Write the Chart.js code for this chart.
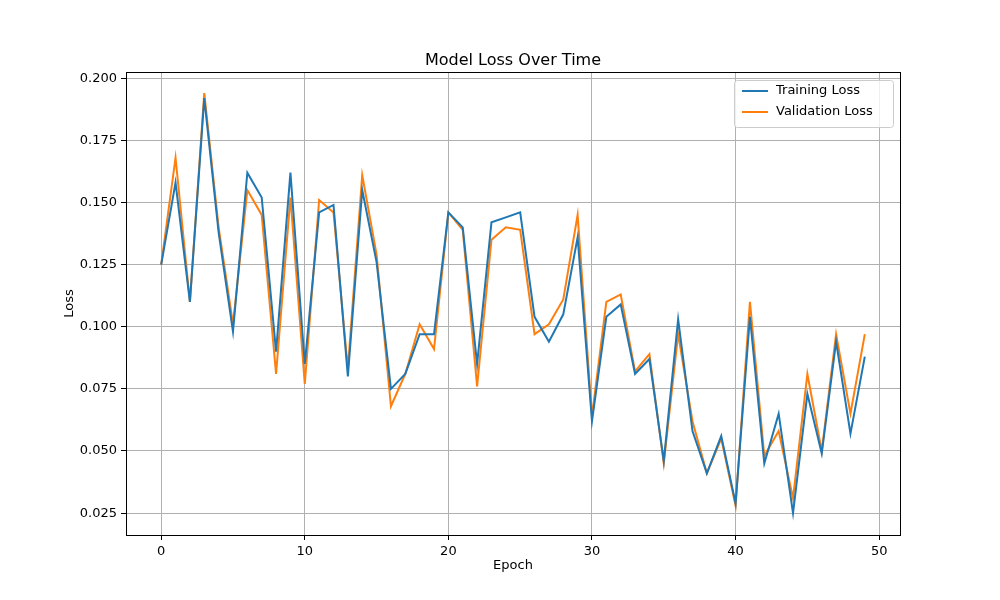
<!DOCTYPE html>
<html>
<head>
<meta charset="utf-8">
<script src="https://cdn.jsdelivr.net/npm/chart.js@4/dist/chart.umd.min.js"></script>
<style>
  body { margin: 0; background: #fff; }
  #wrap { width: 1000px; height: 600px; }
</style>
</head>
<body>
<div id="wrap"><canvas id="lossChart" width="1000" height="600"></canvas></div>
<script>
// Loss values
const epochs = Array.from({ length: 50 }, (_, i) => i);
const trainingLoss = [0.125, 0.158, 0.110, 0.192, 0.138, 0.098, 0.162, 0.152, 0.090, 0.162,
  0.085, 0.146, 0.149, 0.080, 0.155, 0.126, 0.075, 0.081, 0.097, 0.097,
  0.146, 0.140, 0.085, 0.142, 0.144, 0.146, 0.104, 0.094, 0.105, 0.136,
  0.062, 0.104, 0.109, 0.081, 0.087, 0.046, 0.103, 0.058, 0.041, 0.056,
  0.029, 0.104, 0.045, 0.065, 0.025, 0.073, 0.049, 0.094, 0.057, 0.088];
const validationLoss = [0.125, 0.168, 0.110, 0.194, 0.140, 0.101, 0.155, 0.145, 0.081, 0.152,
  0.077, 0.151, 0.146, 0.083, 0.161, 0.129, 0.068, 0.081, 0.101, 0.091,
  0.146, 0.139, 0.076, 0.135, 0.140, 0.139, 0.097, 0.101, 0.111, 0.145,
  0.064, 0.110, 0.113, 0.082, 0.089, 0.045, 0.097, 0.062, 0.041, 0.055,
  0.028, 0.110, 0.048, 0.058, 0.031, 0.081, 0.050, 0.097, 0.065, 0.097];
const xTicks = [0, 10, 20, 30, 40, 50];
const yTicks = [0.025, 0.050, 0.075, 0.100, 0.125, 0.150, 0.175, 0.200];

const font = "'DejaVu Sans', sans-serif";

// Frame, title and inside legend, drawn the matplotlib way
const framePlugin = {
  id: 'frame',
  afterDraw(chart) {
    const { ctx, chartArea: a } = chart;
    ctx.save();
    ctx.strokeStyle = '#000';
    ctx.lineWidth = 1;
    ctx.strokeRect(a.left + 0.5, a.top + 0.5, a.right - a.left, a.bottom - a.top);

    ctx.fillStyle = '#000';
    ctx.font = '16px ' + font;
    ctx.textAlign = 'center';
    ctx.textBaseline = 'alphabetic';
    ctx.fillText('Model Loss Over Time', (a.left + a.right) / 2, 65);

    // legend box
    const bx = 734, by = 80, bw = 159, bh = 47;
    ctx.fillStyle = 'rgba(255,255,255,0.8)';
    ctx.strokeStyle = '#ccc';
    ctx.beginPath();
    ctx.roundRect(bx + 0.5, by + 0.5, bw, bh, 3);
    ctx.fill();
    ctx.stroke();
    ctx.font = '13px ' + font;
    ctx.textAlign = 'left';
    ctx.textBaseline = 'middle';
    chart.data.datasets.forEach((ds, i) => {
      const y = by + 11 + i * 21;
      ctx.strokeStyle = ds.borderColor;
      ctx.lineWidth = 2;
      ctx.beginPath();
      ctx.moveTo(bx + 8, y);
      ctx.lineTo(bx + 34, y);
      ctx.stroke();
      ctx.fillStyle = '#000';
      ctx.fillText(ds.label, bx + 42, y);
    });
    ctx.restore();
  }
};

new Chart(document.getElementById('lossChart'), {
  type: 'line',
  data: {
    datasets: [
      {
        label: 'Training Loss',
        data: epochs.map((e, i) => ({ x: e, y: trainingLoss[i] })),
        borderColor: '#1f77b4',
        borderWidth: 2,
        pointRadius: 0,
        tension: 0
      },
      {
        label: 'Validation Loss',
        data: epochs.map((e, i) => ({ x: e, y: validationLoss[i] })),
        borderColor: '#ff7f0e',
        borderWidth: 2,
        pointRadius: 0,
        tension: 0
      }
    ]
  },
  options: {
    responsive: false,
    animation: false,
    layout: { padding: { left: 60, right: 100, top: 72, bottom: 25 } },
    plugins: { legend: { display: false }, title: { display: false }, tooltip: { enabled: false } },
    scales: {
      x: {
        type: 'linear',
        min: -2.45,
        max: 51.45,
        afterBuildTicks: s => { s.ticks = xTicks.map(v => ({ value: v })); },
        afterFit: s => { s.height = 40; },
        grid: { color: '#b0b0b0', lineWidth: 1, tickLength: 5, tickColor: '#000' },
        border: { display: false },
        ticks: { color: '#000', font: { family: font, size: 13 }, padding: 4, maxRotation: 0 },
        title: { display: true, text: 'Epoch', color: '#000', font: { family: font, size: 13 }, padding: 2 }
      },
      y: {
        min: 0.0162,
        max: 0.2025,
        afterBuildTicks: s => { s.ticks = yTicks.map(v => ({ value: v })); },
        afterFit: s => { s.width = 66; },
        grid: { color: '#b0b0b0', lineWidth: 1, tickLength: 5, tickColor: '#000' },
        border: { display: false },
        ticks: { color: '#000', font: { family: font, size: 13 }, padding: 4, callback: v => v.toFixed(3) },
        title: { display: true, text: 'Loss', color: '#000', font: { family: font, size: 13 }, padding: 2 }
      }
    }
  },
  plugins: [framePlugin]
});
</script>
</body>
</html>
